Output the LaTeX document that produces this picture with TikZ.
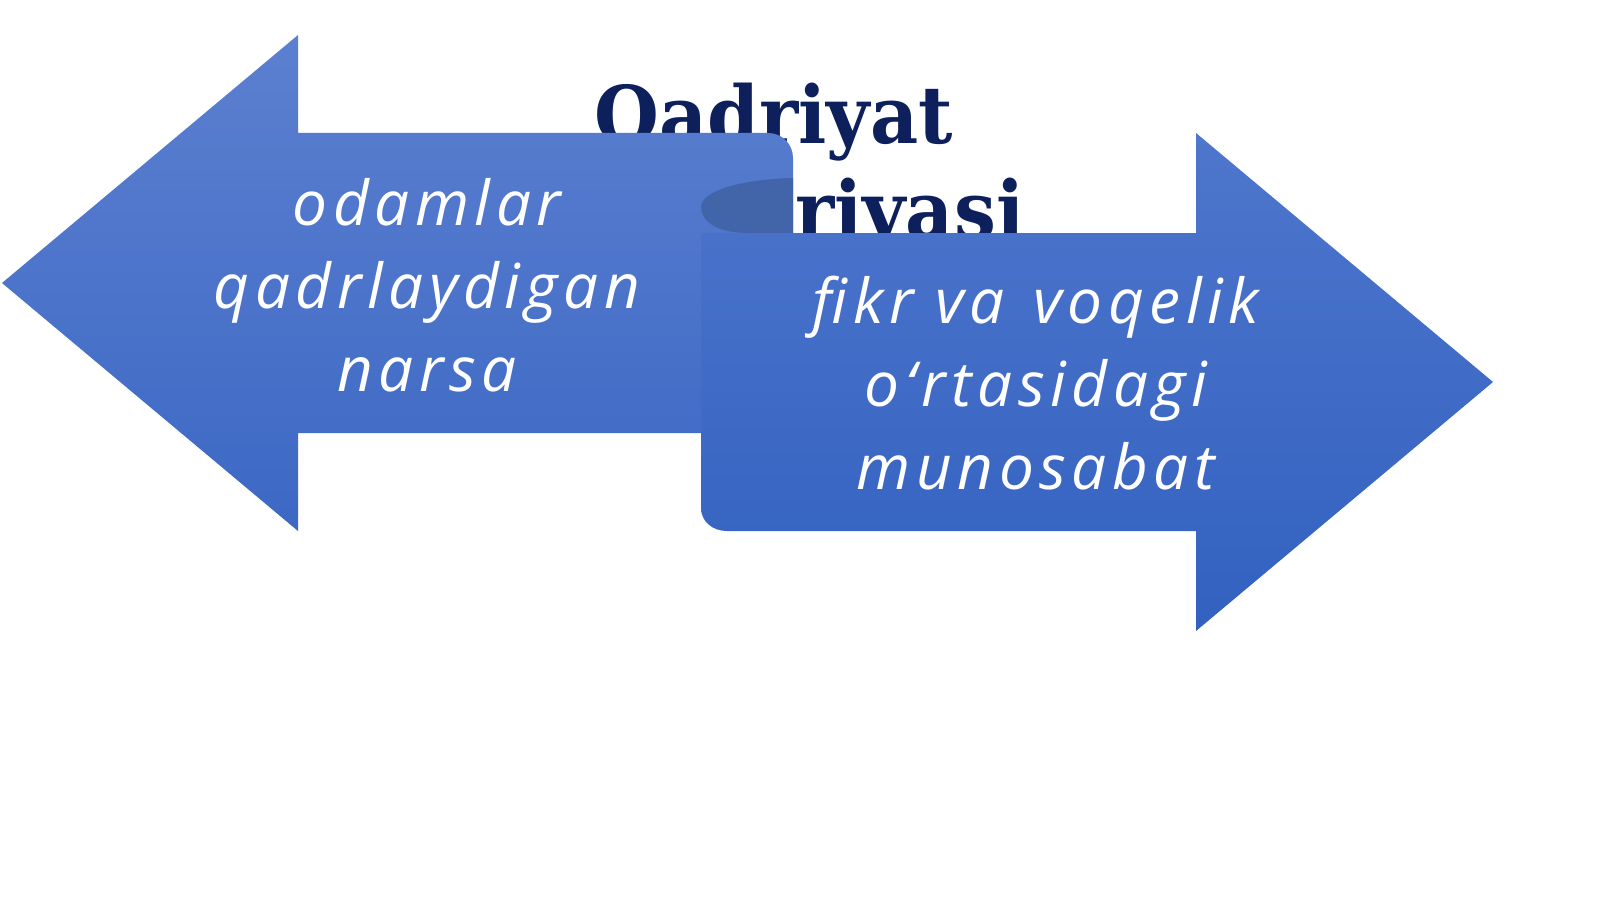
\documentclass[tikz,border=0pt]{standalone}
\usepackage{fontspec}
\newfontfamily\bodyfont{Open Sans}[LetterSpace=9]
\newfontfamily\titlefont{DejaVu Serif}[FakeStretch=0.935]
\definecolor{titleblue}{RGB}{14,32,92}
\definecolor{ltop}{RGB}{92,128,208}
\definecolor{lbot}{RGB}{60,104,196}
\definecolor{rtop}{RGB}{78,118,204}
\definecolor{rbot}{RGB}{50,97,192}
\definecolor{curl}{RGB}{66,101,170}
\tikzset{
  titletext/.style={inner sep=0pt, anchor=base west, text=titleblue, font=\titlefont\bfseries\fontsize{39.8}{48}\selectfont},
  arrowtext/.style={inner sep=0pt, align=center, text=white, font=\bodyfont\itshape\fontsize{31}{41.5}\selectfont}
}
\begin{document}
\begin{tikzpicture}[x=0.5pt,y=-0.5pt]
\useasboundingbox (0,0) rectangle (1600,899);
\fill[white] (0,0) rectangle (1600,899);
% title
\node[titletext] (title1) at (594,143) {Qadriyat};
\node[titletext] (title2) at (602,238) {nazariyasi};
% left arrow
\path[top color=ltop, bottom color=lbot]
  (2,283) -- (298,35) -- (298,133) -- (768,133)
  .. controls (782,133) and (793,144) .. (793,158)
  -- (793,433) -- (298,433) -- (298,531) -- cycle;
% right arrow
\path[top color=rtop, bottom color=rbot]
  (1493,382) -- (1196,133) -- (1196,233) -- (701,233) -- (701,508)
  .. controls (701,521) and (712,531) .. (727,531)
  -- (1196,531) -- (1196,631) -- cycle;
% fold
\fill[curl] (793,178) .. controls (745,179) and (701,190) .. (701,207)
  .. controls (701,222) and (718,233) .. (748,233) -- (793,233) -- cycle;
% texts
\node[arrowtext] (lefttext) at (427,285) {odamlar\\qadrlaydigan\\narsa};
\node[arrowtext] (righttext) at (1036,383) {fikr va\hspace{0.12em} voqelik\\o‘rtasidagi\\munosabat};
\end{tikzpicture}
\end{document}
